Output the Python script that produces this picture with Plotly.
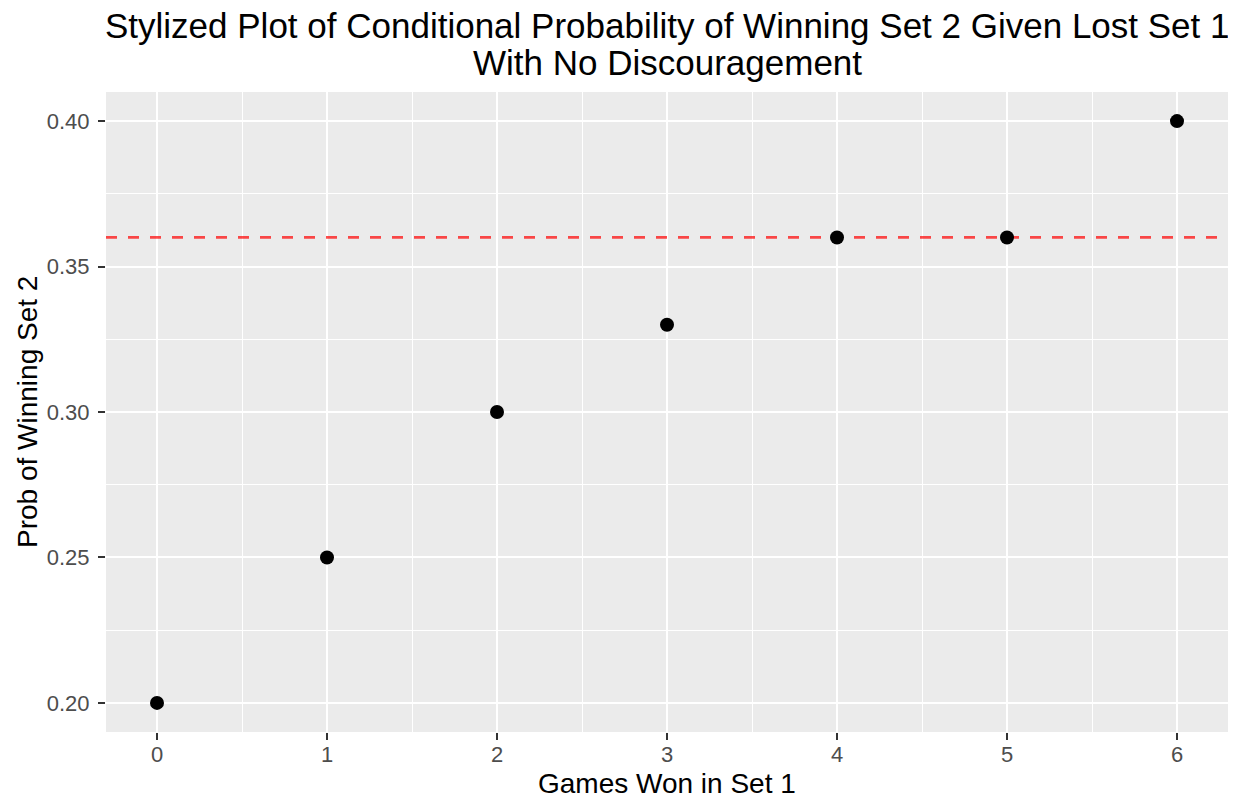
import plotly.graph_objects as go

# games won in set 1 and conditional probability of winning set 2
games_won = [0, 1, 2, 3, 4, 5, 6]
prob_win = [0.20, 0.25, 0.30, 0.33, 0.36, 0.36, 0.40]
y_ticks = [0.20, 0.25, 0.30, 0.35, 0.40]
baseline = 0.36
x_range = [-0.3, 6.3]
y_range = [0.19, 0.41]

title_lines = ['Stylized Plot of Conditional Probability of Winning Set 2 Given Lost Set 1',
               'With No Discouragement']

fig = go.Figure()

# dashed reference line across the whole panel, under the points
fig.add_trace(go.Scatter(x=x_range, y=[baseline, baseline], mode='lines',
                         line=dict(color='rgba(255,0,0,0.7)', width=2.8, dash='11px,11px'),
                         hoverinfo='skip', showlegend=False))

fig.add_trace(go.Scatter(x=games_won, y=prob_win, mode='markers',
                         marker=dict(color='black', size=14), showlegend=False))

# page body has an 8px margin, so the figure is 8px smaller each way
fig.update_layout(
    width=1228, height=791,
    paper_bgcolor='white',
    plot_bgcolor='#EBEBEB',
    margin=dict(l=98, r=8, t=84, b=67),
    font=dict(family='Liberation Sans, Arial, sans-serif'),
)

# titles as annotations so the placement can be pinned down
fig.add_annotation(text=title_lines[0], xref='paper', yref='paper', x=0.5, y=1.104,
                   xanchor='center', yanchor='middle', borderpad=0,
                   showarrow=False, font=dict(size=35, color='black'))
fig.add_annotation(text=title_lines[1], xref='paper', yref='paper', x=0.5, y=1.046,
                   xanchor='center', yanchor='middle', borderpad=0,
                   showarrow=False, font=dict(size=35, color='black'))
fig.add_annotation(text='Games Won in Set 1', xref='paper', yref='paper', x=0.5, y=-0.08,
                   xanchor='center', yanchor='middle',
                   showarrow=False, font=dict(size=28, color='black'))
fig.add_annotation(text='Prob of Winning Set 2', xref='paper', yref='paper', x=-0.0704, y=0.5,
                   xanchor='center', yanchor='middle',
                   textangle=-90, showarrow=False, font=dict(size=28, color='black'))

fig.update_xaxes(
    range=x_range, tickmode='array', tickvals=games_won,
    ticks='outside', ticklen=7, tickcolor='#333333', tickwidth=2,
    tickfont=dict(size=22, color='#4D4D4D'), ticklabelstandoff=-4,
    showgrid=True, gridcolor='white', gridwidth=2,
    minor=dict(dtick=0.5, tick0=0, showgrid=True, gridcolor='white', gridwidth=1),
    zeroline=False, showline=False, automargin=False,
)

fig.update_yaxes(
    range=y_range, tickmode='array', tickvals=y_ticks,
    tickformat='.2f',
    ticks='outside', ticklen=7, tickcolor='#333333', tickwidth=2,
    tickfont=dict(size=22, color='#4D4D4D'), ticklabelstandoff=4,
    showgrid=True, gridcolor='white', gridwidth=2,
    minor=dict(dtick=0.025, tick0=0.2, showgrid=True, gridcolor='white', gridwidth=1),
    zeroline=False, showline=False, automargin=False,
)

fig.write_html("out.html")
